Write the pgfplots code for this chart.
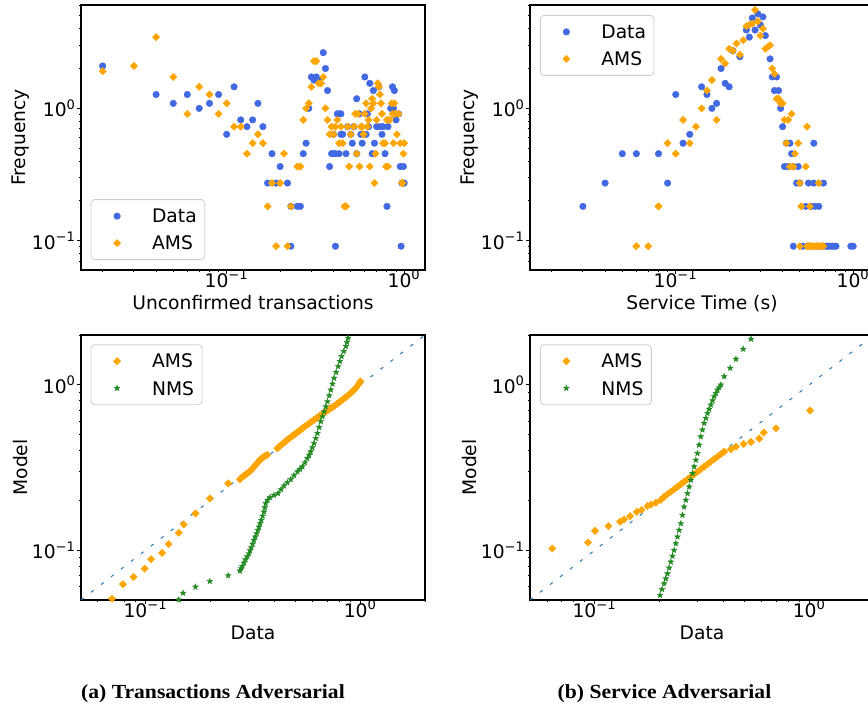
\documentclass[border=0pt]{standalone}
\usepackage{fontspec}
\setmainfont{DejaVu Sans}
\newfontfamily\capfont{Liberation Serif}
\usepackage{pgfplots}
\pgfplotsset{compat=1.18}

\definecolor{cdata}{HTML}{4169E1}
\definecolor{cams}{HTML}{FFA500}
\definecolor{cnms}{HTML}{228B22}
\definecolor{cdiag}{HTML}{1F77B4}

% filled five-pointed star
\pgfdeclareplotmark{fstar}{%
  \pgfpathmoveto{\pgfpointpolar{90}{\pgfplotmarksize}}%
  \pgfpathlineto{\pgfpointpolar{126}{0.42\pgfplotmarksize}}%
  \pgfpathlineto{\pgfpointpolar{162}{\pgfplotmarksize}}%
  \pgfpathlineto{\pgfpointpolar{198}{0.42\pgfplotmarksize}}%
  \pgfpathlineto{\pgfpointpolar{234}{\pgfplotmarksize}}%
  \pgfpathlineto{\pgfpointpolar{270}{0.42\pgfplotmarksize}}%
  \pgfpathlineto{\pgfpointpolar{306}{\pgfplotmarksize}}%
  \pgfpathlineto{\pgfpointpolar{342}{0.42\pgfplotmarksize}}%
  \pgfpathlineto{\pgfpointpolar{18}{\pgfplotmarksize}}%
  \pgfpathlineto{\pgfpointpolar{54}{0.42\pgfplotmarksize}}%
  \pgfpathclose
  \pgfusepathqfillstroke}

\pgfplotsset{
  every axis/.append style={
    scale only axis, width=172pt, height=132.5pt, anchor=south west,
    axis line style={line width=0.6pt},
    tick align=outside, tick pos=left,
    major tick length=1.8pt, minor tick length=1.1pt,
    every tick/.append style={black, line width=0.5pt},
    tick label style={font=\fontsize{9.35}{11}\selectfont},
    xticklabel style={anchor=base, inner sep=0pt, yshift=-7pt},
    yticklabel style={anchor=east, inner sep=0pt, xshift=-0.5pt},
    label style={font=\fontsize{9.35}{11}\selectfont},
    xlabel style={at={(axis description cs:0.5,-0.1494)}, anchor=base},
    ylabel style={at={(axis description cs:-0.176,0.5)}, anchor=center},
    legend cell align=left,
    % legend entry: marker with room left of it and a gap before the text
    legend image code/.code={%
      \path[draw=none] (-9pt,0pt) (17.5pt,0pt);
      \draw[mark repeat=1,##1] plot coordinates {(0pt,0pt)};},
    legend style={font=\fontsize{9.35}{11}\selectfont, draw=black!20,
      rounded corners=1.8pt, fill=white, inner xsep=4pt, inner ysep=2.85pt,
      row sep=2.7pt, column sep=0pt,
      nodes={inner sep=0pt, text height=8.8pt, text depth=2pt}},
    xtick={0.1,1}, xticklabels={10\textsuperscript{−1},10\textsuperscript{0}},
    ytick={0.1,1}, yticklabels={10\textsuperscript{−1},10\textsuperscript{0}},
  },
}

\begin{document}
\begin{tikzpicture}

% (a) top: unconfirmed transactions histogram
\begin{loglogaxis}[at={(40.5pt,218pt)},
  xmin=0.0151, xmax=1.31, ymin=0.0601, ymax=6.04,
  minor xtick={0.02,0.03,0.04,0.05,0.06,0.07,0.08,0.09,0.2,0.3,0.4,0.5,0.6,0.7,0.8,0.9},
  minor ytick={0.07,0.08,0.09,0.2,0.3,0.4,0.5,0.6,0.7,0.8,0.9,2,3,4,5,6},
  xlabel={Unconfirmed transactions}, ylabel={Frequency},
  legend style={at={(0.0282,0.0377)}, anchor=south west}]
\addplot[only marks, color=cdata, mark=*, mark size=1.65pt, line width=0.2pt] coordinates {
(0.02,2.0909) (0.04,1.2727) (0.05,1.0909) (0.06,1.2727) (0.07,1.0) (0.08,1.0909)
(0.09,1.2727) (0.10,0.6364) (0.11,1.4545) (0.12,0.8182) (0.13,0.7273) (0.14,0.8182)
(0.15,1.0909) (0.16,0.7273) (0.17,0.2727) (0.18,0.4545) (0.19,0.2727) (0.20,0.3636)
(0.22,0.2727) (0.23,0.0909) (0.23,0.1818) (0.25,0.1818) (0.26,0.1818) (0.27,0.4545)
(0.28,0.5455) (0.29,1.0) (0.30,1.7273) (0.31,1.6364) (0.32,1.7273) (0.33,1.6364)
(0.35,2.6364) (0.36,2.0) (0.37,1.3636) (0.38,0.3636) (0.39,0.4545) (0.40,0.6364)
(0.40,0.4545) (0.41,0.0909) (0.41,0.4545) (0.42,0.9091) (0.43,0.9091) (0.43,0.4545)
(0.44,0.9091) (0.44,0.6364) (0.45,0.6364) (0.47,0.4545) (0.48,0.7273) (0.50,0.6364)
(0.51,0.5455) (0.52,0.7273) (0.54,1.1818) (0.54,0.4545) (0.56,0.9091) (0.57,0.6364)
(0.58,0.5455) (0.60,1.7273) (0.61,0.6364) (0.62,0.9091) (0.63,0.7273) (0.64,1.5455)
(0.66,0.4545) (0.67,1.3636) (0.68,0.5455) (0.70,0.7273) (0.72,1.4545) (0.73,0.7273)
(0.75,0.6364) (0.76,0.7273) (0.78,0.4545) (0.80,0.1818) (0.81,0.7273) (0.84,1.0)
(0.86,1.4545) (0.87,1.0) (0.88,1.3636) (0.90,0.8182) (0.93,0.9091) (0.95,0.3636)
(0.96,0.0909) (0.97,0.2727) (0.99,0.3636) (1.00,0.2727)
};
\addlegendentry{Data}
\addplot[only marks, color=cams, mark=square*, mark size=1.29pt, mark options={rotate=45}, line width=0.2pt] coordinates {
(0.02,1.9091) (0.03,2.0909) (0.04,3.4545) (0.05,1.7273) (0.06,0.9091) (0.07,1.4545)
(0.08,1.2727) (0.09,0.9091) (0.10,1.0909) (0.11,0.7273) (0.12,0.7273) (0.13,0.4545)
(0.14,0.5455) (0.15,0.6364) (0.16,0.5455) (0.17,0.1818) (0.18,0.2727) (0.19,0.0909)
(0.20,0.2727) (0.21,0.4545) (0.22,0.0909) (0.23,0.1818) (0.25,0.3636) (0.26,0.3636)
(0.27,0.8182) (0.28,1.0) (0.29,1.0909) (0.30,1.4545) (0.31,2.2727) (0.32,2.2727)
(0.33,1.5455) (0.34,1.5455) (0.35,1.7273) (0.36,1.0) (0.37,0.8182) (0.38,0.6364)
(0.39,0.7273) (0.40,0.6364) (0.41,0.7273) (0.42,0.8182) (0.43,0.5455) (0.44,0.7273)
(0.45,0.5455) (0.46,0.1818) (0.47,0.1818) (0.48,0.7273) (0.49,0.3636) (0.50,0.6364)
(0.52,0.7273) (0.53,0.9091) (0.54,0.4545) (0.55,0.9091) (0.56,0.3636) (0.57,0.7273)
(0.58,0.7273) (0.59,0.6364) (0.60,0.9091) (0.61,1.0909) (0.62,0.7273) (0.63,0.8182)
(0.64,0.3636) (0.65,1.0) (0.66,1.1818) (0.67,1.0909) (0.68,0.2727) (0.69,0.4545)
(0.70,0.8182) (0.71,1.5455) (0.72,1.4545) (0.73,1.2727) (0.74,1.0909) (0.75,0.9091)
(0.76,0.5455) (0.78,0.5455) (0.79,0.3636) (0.80,0.8182) (0.81,0.3636) (0.83,0.8182)
(0.85,1.0909) (0.86,0.9091) (0.87,0.5455) (0.88,1.0909) (0.89,0.9091) (0.91,0.6364)
(0.93,0.9091) (0.95,0.5455) (0.97,0.2727) (0.98,0.2727) (0.99,0.4545) (1.00,0.5455)
};
\addlegendentry{AMS}
\end{loglogaxis}

% (b) top: service time histogram
\begin{loglogaxis}[at={(265pt,218pt)},
  xmin=0.0151, xmax=1.31, ymin=0.0601, ymax=6.04,
  minor xtick={0.02,0.03,0.04,0.05,0.06,0.07,0.08,0.09,0.2,0.3,0.4,0.5,0.6,0.7,0.8,0.9},
  minor ytick={0.07,0.08,0.09,0.2,0.3,0.4,0.5,0.6,0.7,0.8,0.9,2,3,4,5,6},
  xlabel={Service Time (s)}, ylabel={Frequency},
  legend style={at={(0.029,0.9623)}, anchor=north west}]
\addplot[only marks, color=cdata, mark=*, mark size=1.65pt, line width=0.2pt] coordinates {
(0.03,0.1818) (0.04,0.2727) (0.05,0.4545) (0.06,0.4545) (0.08,0.4545) (0.09,0.2727)
(0.10,1.2727) (0.11,0.5455) (0.12,0.6364) (0.14,1.4545) (0.15,1.2727) (0.16,1.0)
(0.17,1.0909) (0.18,2.0) (0.19,1.5455) (0.20,1.4545) (0.21,2.7273) (0.23,2.4545)
(0.25,3.9091) (0.26,3.4545) (0.27,4.8182) (0.28,3.9091) (0.29,5.1818) (0.30,4.2727)
(0.31,4.9091) (0.32,3.5455) (0.34,2.3636) (0.35,1.7273) (0.36,1.3636) (0.37,1.7273)
(0.38,1.3636) (0.39,1.0) (0.40,0.7273) (0.41,0.3636) (0.42,0.5455) (0.43,0.3636)
(0.44,0.5455) (0.45,0.4545) (0.46,0.3636) (0.46,0.0909) (0.48,0.2727) (0.49,0.3636)
(0.50,0.2727) (0.52,0.0909) (0.54,0.1818) (0.55,0.0909) (0.56,0.2727) (0.58,0.1818)
(0.58,0.0909) (0.60,0.5455) (0.60,0.2727) (0.61,0.1818) (0.62,0.0909) (0.64,0.1818)
(0.64,0.0909) (0.66,0.0909) (0.68,0.2727) (0.68,0.0909) (0.70,0.0909) (0.72,0.0909)
(0.74,0.0909) (0.76,0.0909) (0.78,0.0909) (0.80,0.0909) (0.97,0.0909) (1.00,0.0909)
};
\addlegendentry{Data}
\addplot[only marks, color=cams, mark=square*, mark size=1.29pt, mark options={rotate=45}, line width=0.2pt] coordinates {
(0.06,0.0909) (0.07,0.0909) (0.08,0.1818) (0.09,0.5455) (0.10,0.4545) (0.11,0.8182)
(0.12,0.5455) (0.13,0.7273) (0.14,1.0) (0.15,1.3636) (0.16,1.6364) (0.17,0.8182)
(0.18,2.3636) (0.19,2.1818) (0.20,2.8182) (0.21,2.7273) (0.22,3.0909) (0.23,2.5455)
(0.24,3.2727) (0.25,4.1818) (0.26,4.2727) (0.27,4.3636) (0.28,5.5455) (0.29,4.5455)
(0.30,3.5455) (0.31,4.0) (0.32,2.8182) (0.33,2.9091) (0.34,3.0) (0.35,2.0)
(0.36,1.8182) (0.37,1.1818) (0.38,1.1818) (0.39,1.0909) (0.40,1.0909) (0.41,0.8182)
(0.43,0.8182) (0.45,0.9091) (0.42,0.5455) (0.49,0.5455) (0.55,0.7273) (0.44,0.3636)
(0.46,0.3636) (0.54,0.3636) (0.47,0.4545) (0.50,0.2727) (0.64,0.2727) (0.51,0.1818)
(0.57,0.1818) (0.50,0.0909) (0.55,0.0909) (0.56,0.0909) (0.57,0.0909) (0.58,0.0909)
(0.60,0.0909) (0.62,0.0909) (0.64,0.0909) (0.66,0.0909) (0.68,0.0909)
};
\addlegendentry{AMS}
\end{loglogaxis}

% (a) bottom: Q-Q plot
\begin{loglogaxis}[at={(40.5pt,53pt)},
  xmin=0.05, xmax=2, ymin=0.05, ymax=2,
  minor xtick={0.06,0.07,0.08,0.09,0.2,0.3,0.4,0.5,0.6,0.7,0.8,0.9,2},
  minor ytick={0.06,0.07,0.08,0.09,0.2,0.3,0.4,0.5,0.6,0.7,0.8,0.9,2},
  xlabel={Data}, ylabel={Model},
  legend style={at={(0.0282,0.9649)}, anchor=north west}]
\addplot[forget plot, cdiag, line width=0.5pt, dash pattern=on 1.7pt off 4.6pt] coordinates {(0.05,0.05) (2,2)};
\addplot[only marks, color=cams, mark=square*, mark size=1.29pt, mark options={rotate=45}, line width=0.2pt] coordinates {
(0.0697,0.0509) (0.0784,0.0623) (0.0879,0.0689) (0.0989,0.0774) (0.106,0.0882)
(0.1193,0.0963) (0.128,0.1088) (0.1426,0.1274) (0.1504,0.1432) (0.1706,0.1668)
(0.199,0.2056) (0.2425,0.2535)
(0.2748,0.268) (0.280,0.275) (0.286,0.281) (0.292,0.287) (0.298,0.292) (0.304,0.298)
(0.311,0.306) (0.318,0.316) (0.325,0.327) (0.332,0.338) (0.339,0.349) (0.346,0.358)
(0.353,0.366) (0.361,0.372) (0.369,0.377)
(0.411,0.413) (0.420,0.424) (0.430,0.435) (0.440,0.446) (0.450,0.457) (0.460,0.468)
(0.471,0.479) (0.482,0.490) (0.493,0.501) (0.504,0.512) (0.516,0.524) (0.528,0.536)
(0.540,0.548) (0.552,0.560) (0.565,0.572) (0.578,0.584) (0.591,0.597) (0.605,0.610)
(0.619,0.623) (0.633,0.636) (0.648,0.650) (0.663,0.664) (0.678,0.678) (0.694,0.692)
(0.710,0.706) (0.726,0.720) (0.743,0.734) (0.760,0.749) (0.777,0.765) (0.795,0.782)
(0.813,0.800) (0.832,0.818) (0.851,0.837) (0.871,0.858) (0.891,0.880) (0.912,0.903)
(0.933,0.929) (0.955,0.960) (0.977,1.000) (1.000,1.047)
};
\addlegendentry{AMS}
\addplot[only marks, color=cnms, mark=fstar, mark size=1.5pt, line width=0.2pt] coordinates {
(0.1426,0.0502) (0.1494,0.0551) (0.1706,0.0600) (0.1990,0.0649) (0.2425,0.0703)
(0.2748,0.0750) (0.2785,0.0775) (0.2818,0.0800) (0.2870,0.0840) (0.2920,0.0878)
(0.2975,0.0915) (0.3027,0.0955) (0.3065,0.0995) (0.3105,0.1038) (0.3150,0.1092)
(0.3193,0.1150) (0.3240,0.1205) (0.3287,0.1262) (0.3330,0.1322) (0.3370,0.1384)
(0.3415,0.1450) (0.3458,0.1520) (0.3505,0.1610) (0.3556,0.1706) (0.3590,0.1810)
(0.3622,0.1919) (0.3700,0.2010) (0.3793,0.2086) (0.3960,0.2150) (0.4133,0.2205)
(0.4270,0.2330) (0.4410,0.2454) (0.4570,0.2565) (0.4739,0.2681) (0.4910,0.2830)
(0.5092,0.2983) (0.5230,0.3090) (0.5373,0.3200) (0.5520,0.3390) (0.5669,0.3594)
(0.5770,0.3765) (0.5875,0.3945) (0.5980,0.4180) (0.6086,0.4431) (0.6200,0.4750)
(0.6313,0.5095) (0.6430,0.5530) (0.6541,0.5995) (0.6660,0.6430) (0.6776,0.6894)
(0.6900,0.7390) (0.7031,0.7925) (0.7160,0.8600) (0.7285,0.9326) (0.7415,1.0120)
(0.7546,1.0975) (0.7710,1.1900) (0.7878,1.2915) (0.8025,1.3850) (0.8172,1.4850)
(0.8365,1.5930) (0.8558,1.7080) (0.8660,1.8100) (0.8770,1.9190)
};
\addlegendentry{NMS}
\end{loglogaxis}

% (b) bottom: Q-Q plot
\begin{loglogaxis}[at={(265pt,53pt)},
  xmin=0.05, xmax=2, ymin=0.05, ymax=2,
  minor xtick={0.06,0.07,0.08,0.09,0.2,0.3,0.4,0.5,0.6,0.7,0.8,0.9,2},
  minor ytick={0.06,0.07,0.08,0.09,0.2,0.3,0.4,0.5,0.6,0.7,0.8,0.9,2},
  xlabel={Data}, ylabel={Model},
  legend style={at={(0.029,0.9649)}, anchor=north west}]
\addplot[forget plot, cdiag, line width=0.5pt, dash pattern=on 1.7pt off 4.6pt] coordinates {(0.05,0.05) (2,2)};
\addplot[only marks, color=cams, mark=square*, mark size=1.29pt, mark options={rotate=45}, line width=0.2pt] coordinates {
(0.0635,0.1024) (0.0931,0.1113) (0.1004,0.1309) (0.1158,0.1398) (0.1313,0.1485)
(0.1371,0.1535) (0.1462,0.1607) (0.1570,0.1706) (0.1652,0.1748) (0.1762,0.1848)
(0.1830,0.1890) (0.1926,0.1936) (0.2032,0.2010) (0.2107,0.2104) (0.2180,0.2180)
(0.2263,0.2257) (0.2345,0.2335) (0.2431,0.2419) (0.2520,0.2505) (0.2610,0.2594)
(0.2705,0.2685) (0.2805,0.2781) (0.2905,0.2880) (0.3013,0.2983) (0.3122,0.3090)
(0.3236,0.3199) (0.3355,0.3312) (0.3477,0.3431) (0.3605,0.3555) (0.3737,0.3679)
(0.3873,0.3810) (0.4012,0.3945) (0.4310,0.4074) (0.4550,0.4227) (0.4942,0.4388)
(0.5346,0.4514) (0.5844,0.4728) (0.6128,0.5140) (0.6993,0.5463) (1.0077,0.6990)
};
\addlegendentry{AMS}
\addplot[only marks, color=cnms, mark=fstar, mark size=1.5pt, line width=0.2pt] coordinates {
(0.2018,0.0534) (0.2060,0.0580) (0.2106,0.0628) (0.2145,0.0673) (0.2184,0.0722)
(0.2222,0.0783) (0.2263,0.0850) (0.2304,0.0922) (0.2345,0.1000) (0.2388,0.1098)
(0.2431,0.1205) (0.2475,0.1322) (0.2520,0.1450) (0.2565,0.1630) (0.2610,0.1831)
(0.2658,0.2010) (0.2707,0.2205) (0.2756,0.2420) (0.2805,0.2656) (0.2856,0.2915)
(0.2907,0.3200) (0.2960,0.3510) (0.3013,0.3854) (0.3067,0.4330) (0.3122,0.4862)
(0.3178,0.5340) (0.3236,0.5856) (0.3295,0.6280) (0.3355,0.6734) (0.3416,0.7140)
(0.3477,0.7565) (0.3540,0.8020) (0.3603,0.8500) (0.3670,0.8900) (0.3737,0.9326)
(0.3805,0.9660) (0.3873,1.0000) (0.4012,1.1230) (0.4280,1.2620) (0.4550,1.4310)
(0.4920,1.6450) (0.5346,1.8920)
};
\addlegendentry{NMS}
\end{loglogaxis}

\node[anchor=base, font={\capfont\fontsize{10}{12}\selectfont\bfseries}, xscale=1.08, transform shape]
  at (106.5pt,3.85pt) {(a) Transactions Adversarial};
\node[anchor=base, font={\capfont\fontsize{10}{12}\selectfont\bfseries}, xscale=1.08, transform shape]
  at (332.25pt,3.85pt) {(b) Service Adversarial};

\pgfresetboundingbox
\path[use as bounding box] (0pt,0pt) rectangle (434pt,353pt);
\end{tikzpicture}
\end{document}
